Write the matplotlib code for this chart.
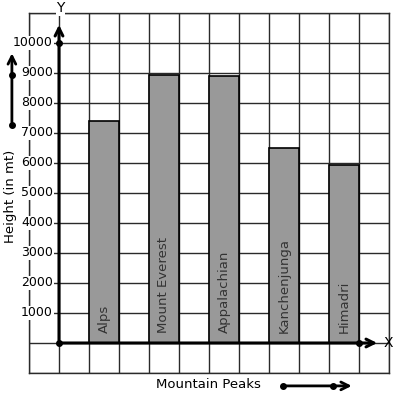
import numpy as np
from matplotlib import pyplot as plt

# Mountain heights (in metres)
peaks   = ['Alps', 'Mount Everest', 'Appalachian', 'Kanchenjunga', 'Himadri']
heights = [7400, 8950, 8900, 6500, 5950]
yticks  = [1000, 2000, 3000, 4000, 5000, 6000, 7000, 8000, 9000, 10000]

# Figure is one graph-paper grid, 30 px per cell
fig = plt.figure(figsize=(3.97, 3.99), dpi=100)
ax  = fig.add_axes([29/397, 26/399, 360/397, 360/399])
ax.set_xlim(-1, 11)
ax.set_ylim(-1000, 11000)
ax.set_xticks(np.arange(-1, 12))
ax.set_yticks(np.arange(-1000, 12000, 1000))
ax.tick_params(length=0, labelbottom=False, labelleft=False)
ax.grid(True, color='#2a2a2a', lw=1.0)
ax.set_axisbelow(True)
for s in ax.spines.values():
    s.set_color('#2a2a2a')
    s.set_linewidth(1.0)

# bars sit on every other cell
xpos = np.arange(len(peaks)) * 2 + 1.5
ax.bar(xpos, heights, width=1, color='#999999', edgecolor='black',
       linewidth=1.2, zorder=3)
for x, name in zip(xpos, peaks):
    ax.text(x, 330, name, rotation=90, ha='center', va='bottom',
            fontsize=9.5, color='#333333', zorder=4)

# y tick labels inside the grid with a white box
for v in yticks:
    ax.text(-0.2, v, str(v), ha='right', va='center', fontsize=9,
            zorder=4, bbox=dict(fc='white', ec='none', pad=0.5))

# axes with arrows
ax.annotate('', xy=(0, 10700), xytext=(0, 0),
            arrowprops=dict(arrowstyle='->', lw=2.2, color='black',
                            mutation_scale=14), zorder=5)
ax.annotate('', xy=(10.7, 0), xytext=(0, 0),
            arrowprops=dict(arrowstyle='->', lw=2.2, color='black',
                            mutation_scale=14), zorder=5)
ax.plot([0, 0, 10], [0, 10000, 0], 'o', color='black', ms=4, zorder=6)
ax.text(0.05, 11170, 'Y', ha='center', va='center', fontsize=10, zorder=6,
        bbox=dict(fc='white', ec='none', pad=0.5))
ax.text(10.98, 0, 'X', ha='center', va='center', fontsize=10, zorder=6)

# axis titles with the little direction arrows
ax.text(-1.6, 4900, 'Height (in mt)', rotation=90, ha='center',
        va='center', fontsize=9.5, clip_on=False)
ax.annotate('', xy=(-1.57, 9750), xytext=(-1.57, 7270),
            arrowprops=dict(arrowstyle='->', lw=2, color='black',
                            mutation_scale=14), annotation_clip=False)
ax.plot([-1.57, -1.57], [7270, 8930], 'o', color='black', ms=4,
        clip_on=False)
ax.text(4.97, -1400, 'Mountain Peaks', ha='center', va='center',
        fontsize=9.5, clip_on=False)
ax.annotate('', xy=(9.85, -1430), xytext=(7.47, -1430),
            arrowprops=dict(arrowstyle='->', lw=2, color='black',
                            mutation_scale=14), annotation_clip=False)
ax.plot([7.47, 9.13], [-1430, -1430], 'o', color='black', ms=4,
        clip_on=False)

plt.savefig('out.png', dpi=100)
